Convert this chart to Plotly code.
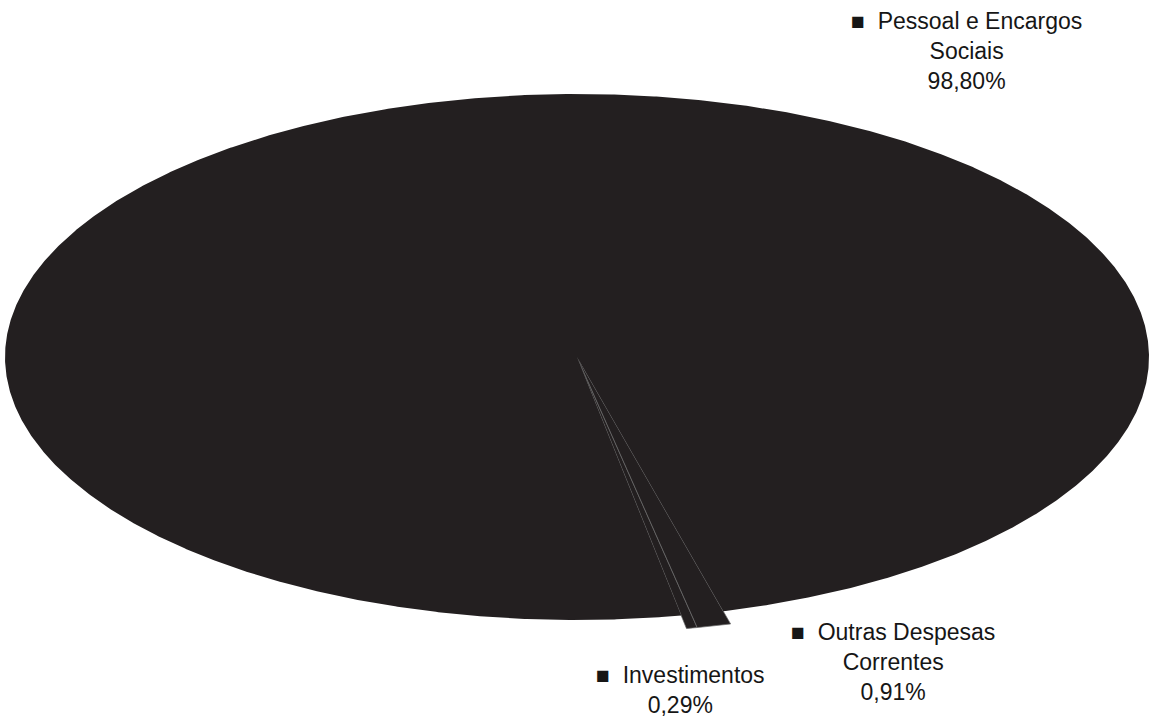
import numpy as np
import plotly.graph_objects as go

categories = ["Investimentos", "Outras Despesas Correntes", "Pessoal e Encargos Sociais"]
values = [0.29, 0.91, 98.80]
label_texts = ["■&nbsp; Investimentos<br>0,29%",
               "■&nbsp; Outras Despesas<br>Correntes<br>0,91%",
               "■&nbsp; Pessoal e Encargos<br>Sociais<br>98,80%"]

W, H = 1154, 718
cx, cy, rx, ry = 577, 357, 572, 263
start_deg = 10.5          # parametric angle from the downward direction
radius_scale = [1.05, 1.05, 1.0]
fill_col = "#231f20"

fig = go.Figure()
cum = start_deg
for cat, v, rs in zip(categories, values, radius_scale):
    span = v / 100 * 360
    a0, a1 = np.radians(cum), np.radians(cum + span)
    t = np.linspace(a0, a1, max(8, int(span * 4)))
    xs = np.concatenate([[cx], cx + rx * rs * np.sin(t), [cx]])
    ys = np.concatenate([[cy], cy + ry * rs * np.cos(t), [cy]])
    border = dict(color="#6a6a6a", width=0.7) if v < 50 else dict(color=fill_col, width=0)
    fig.add_trace(go.Scatter(x=xs, y=ys, mode="lines", fill="toself",
                             fillcolor=fill_col, line=border, name=cat,
                             hoverinfo="name", showlegend=False))
    cum += span

# labels
label_pos = [(680, 690), (893, 662), (966, 51)]
for txt, (lx, ly) in zip(label_texts, label_pos):
    fig.add_annotation(x=lx, y=ly, text=txt, showarrow=False,
                       font=dict(family="Liberation Sans, Arial", size=23, color="#161616"),
                       align="center", xanchor="center", yanchor="middle")

fig.update_layout(width=W, height=H, autosize=False,
                  margin=dict(l=0, r=0, t=0, b=0),
                  paper_bgcolor="white", plot_bgcolor="white",
                  xaxis=dict(range=[0, W], visible=False, fixedrange=True),
                  yaxis=dict(range=[H, 0], visible=False, fixedrange=True))
fig.write_html("out.html", config={"displayModeBar": False},
               post_script="document.body.style.margin='0';document.body.style.overflow='hidden';")
